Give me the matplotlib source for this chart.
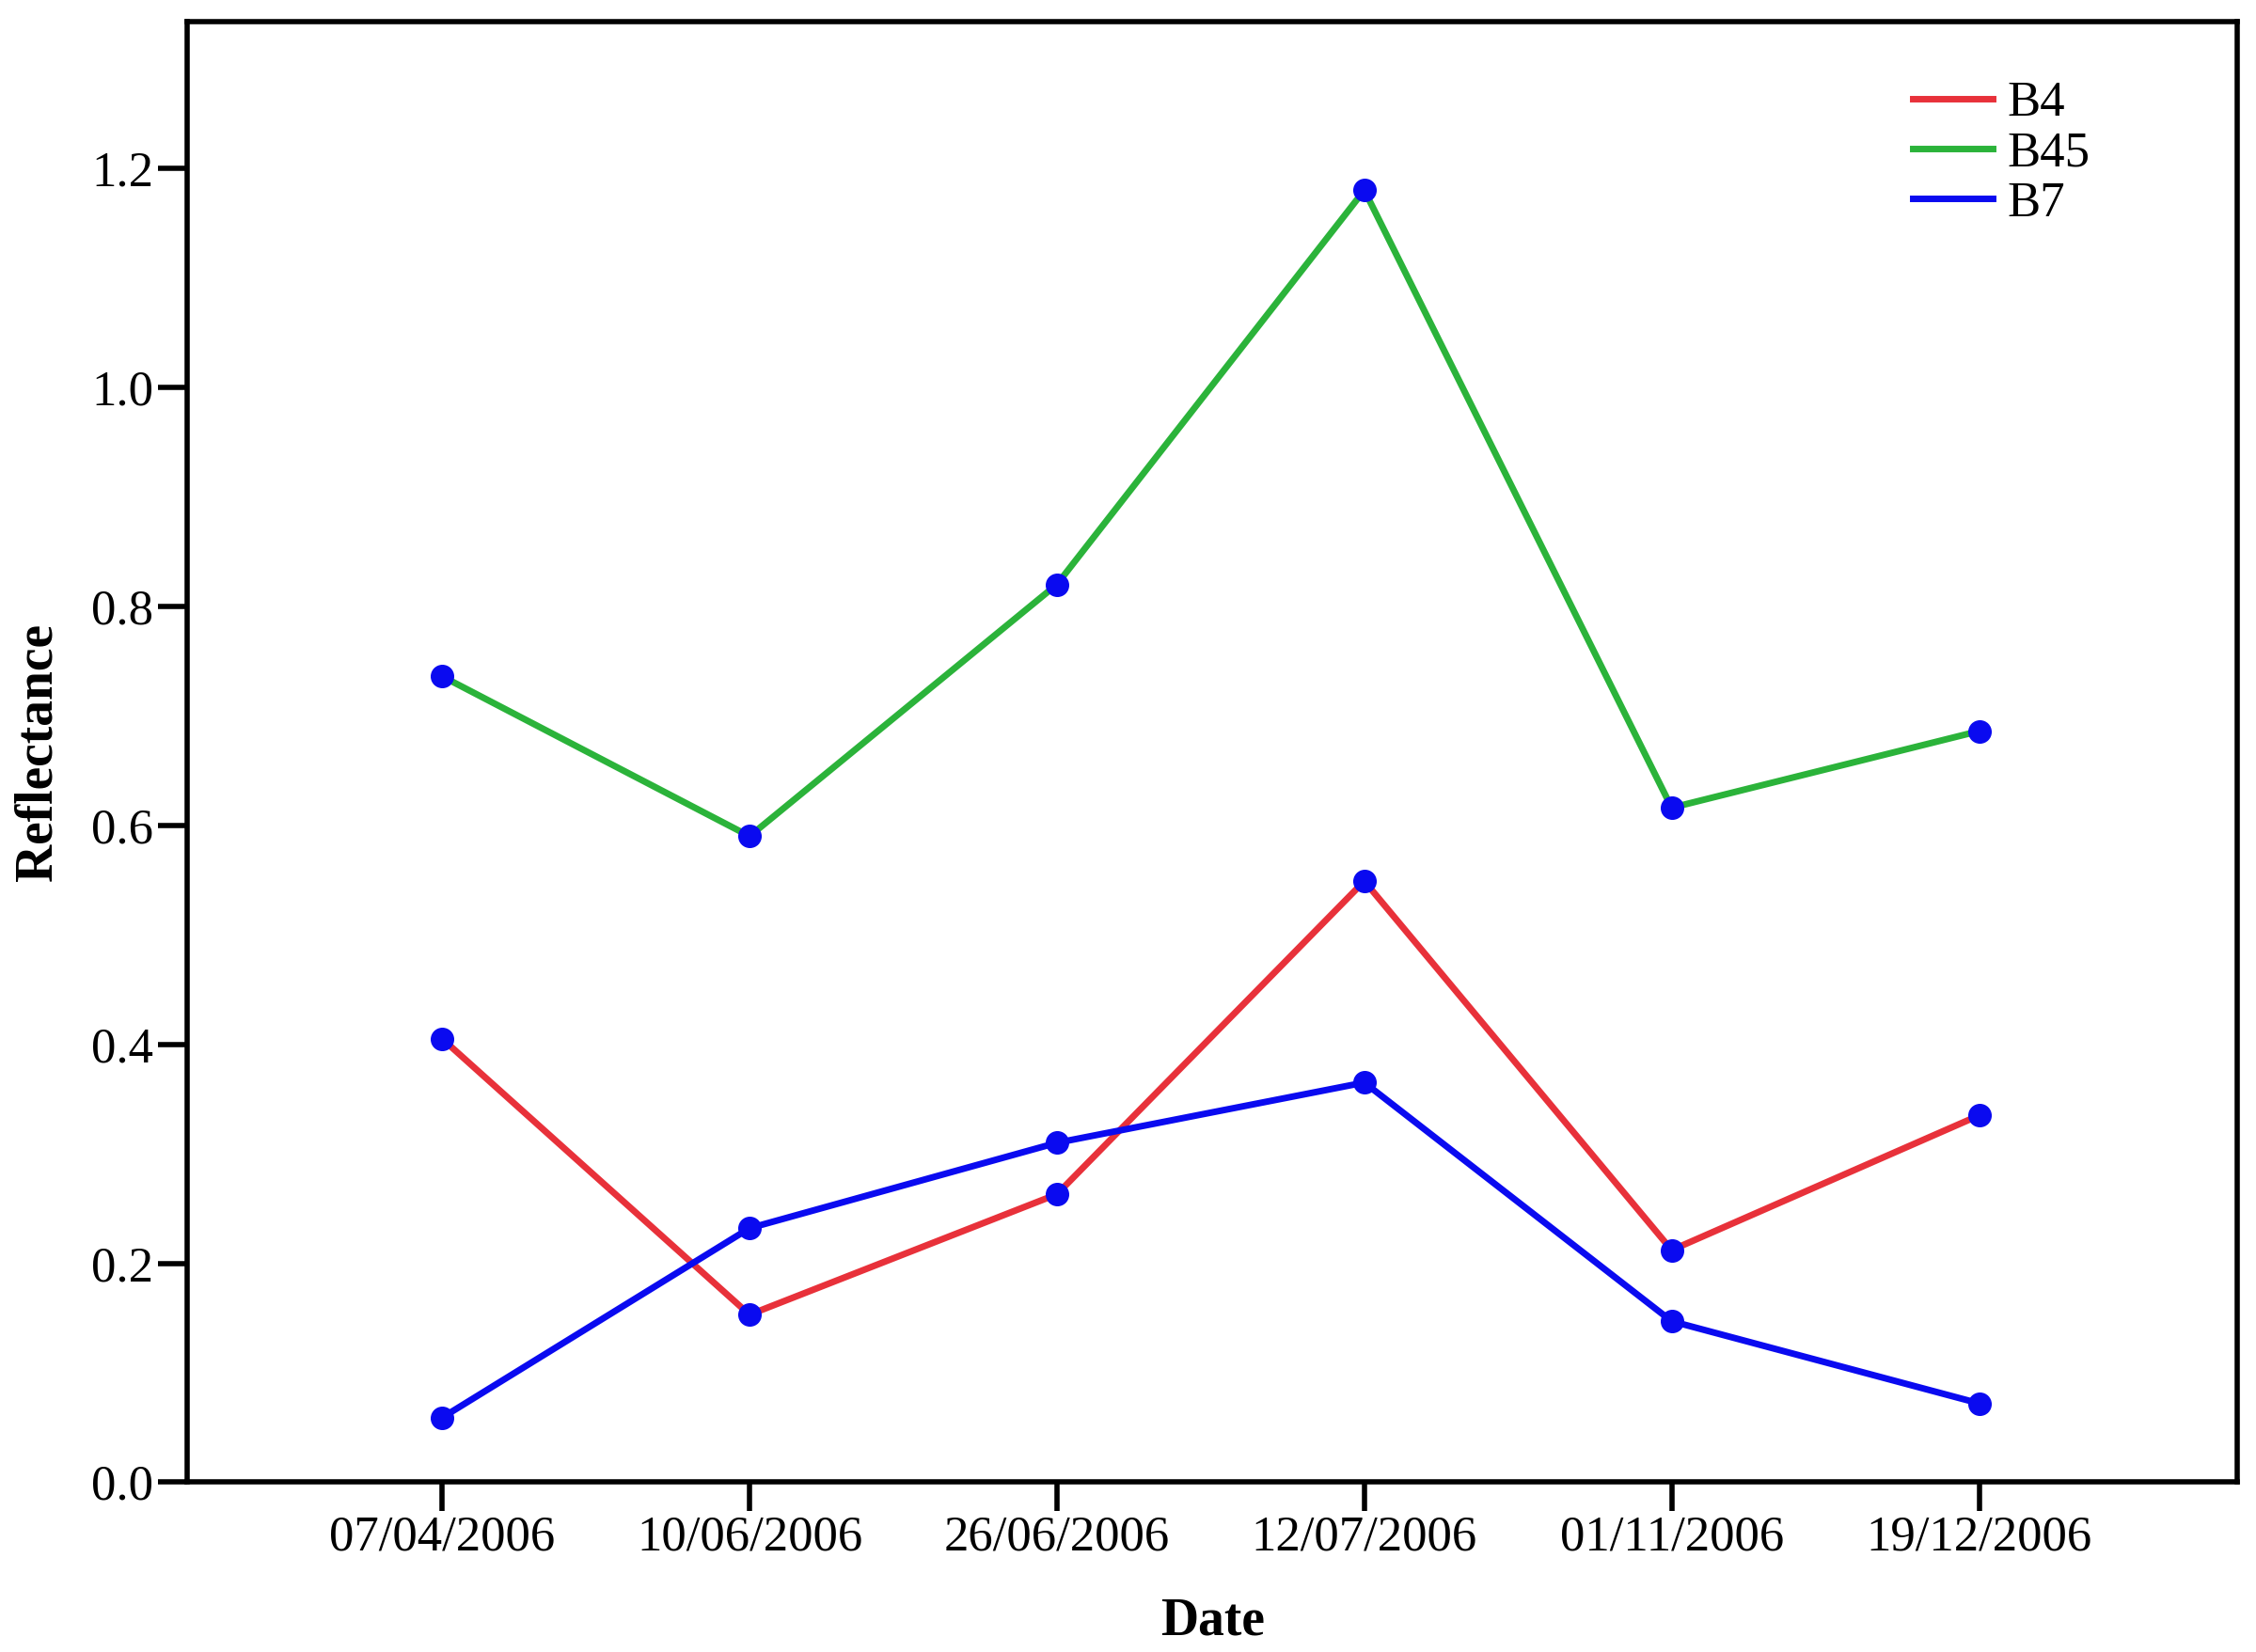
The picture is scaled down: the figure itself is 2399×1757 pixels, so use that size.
import matplotlib
matplotlib.use("Agg")
import matplotlib.pyplot as plt

dates = ["07/04/2006", "10/06/2006", "26/06/2006", "12/07/2006", "01/11/2006", "19/12/2006"]
b4 = [0.405, 0.153, 0.263, 0.549, 0.212, 0.335]
b45 = [0.736, 0.590, 0.820, 1.180, 0.616, 0.686]
b7 = [0.059, 0.232, 0.310, 0.365, 0.147, 0.072]

plt.rcParams["font.family"] = "Liberation Serif"
fig = plt.figure(figsize=(23.99, 17.57), dpi=100)
ax = fig.add_axes([130/1568, 1-1030/1148, 1425/1568, 1015/1148])
x = list(range(len(dates)))
for vals, col, lab in [(b4, "#e8313a", "B4"), (b45, "#2bb33a", "B45"), (b7, "#0a0af0", "B7")]:
    ax.plot(x, vals, color=col, lw=5, label=lab)
for vals in [b4, b45, b7]:
    ax.plot(x, vals, ls="none", marker="o", ms=17, color="#0a0af0")
ax.set_xlim(-0.83, 5.84)
ax.set_ylim(0, 1.334)
ax.set_xticks(x)
ax.set_xticklabels(dates)
ax.set_yticks([0, 0.2, 0.4, 0.6, 0.8, 1.0, 1.2])
ax.set_yticklabels(["0.0", "0.2", "0.4", "0.6", "0.8", "1.0", "1.2"])
ax.tick_params(labelsize=38, width=4, length=22, direction="out")
for s in ax.spines.values():
    s.set_linewidth(4)
ax.set_xlabel("Date", fontsize=40, fontweight="bold", labelpad=28)
ax.set_ylabel("Reflectance", fontsize=40, fontweight="bold", labelpad=22)
ax.legend(loc="upper right", frameon=False, fontsize=38, handlelength=1.6,
          handletextpad=0.3, bbox_to_anchor=(0.95, 0.99), labelspacing=0.1)
fig.savefig("out.png", dpi=100)
